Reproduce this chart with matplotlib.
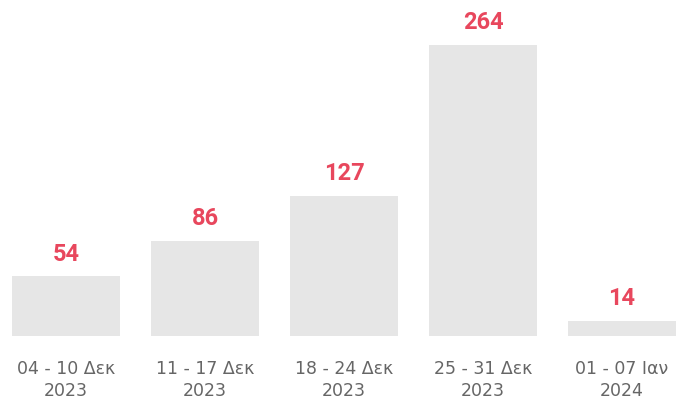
import matplotlib
matplotlib.use("Agg")
import matplotlib.pyplot as plt

plt.rcParams['font.family'] = ['DejaVu Sans']

# data
weeks = ["04 - 10 Δεκ\n2023", "11 - 17 Δεκ\n2023", "18 - 24 Δεκ\n2023",
         "25 - 31 Δεκ\n2023", "01 - 07 Ιαν\n2024"]
counts = [54, 86, 127, 264, 14]

fig = plt.figure(figsize=(6.84, 4.01), dpi=100)
# axes spanning full width, bottom at bar baseline
ax = fig.add_axes([0, 65 / 401, 1, 336 / 401])

x = list(range(len(weeks)))
bars = ax.bar(x, counts, width=108 / 139, color='#e6e6e6')

for xi, v in zip(x, counts):
    ax.annotate(str(v), (xi, v), xytext=(0, 11.5), textcoords='offset points',
                ha='center', va='baseline', fontsize=17, fontweight='bold',
                color='#e8475d', family='Roboto')

ax.set_xlim(-66 / 139, (684 - 66) / 139)
ax.set_ylim(0, 336 / 1.102)
ax.set_xticks(x)
ax.set_xticklabels(weeks, fontsize=12.5, color='#666666', linespacing=1.3)
ax.tick_params(axis='x', length=0, pad=17)
ax.set_yticks([])
for s in ax.spines.values():
    s.set_visible(False)

fig.savefig('out.png', dpi=100)
